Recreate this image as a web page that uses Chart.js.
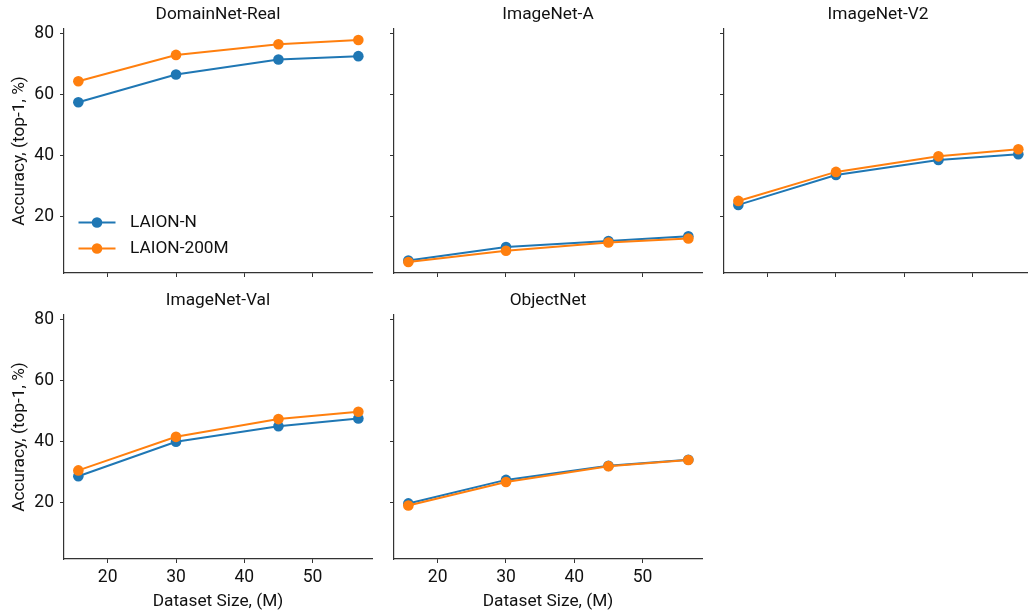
<!DOCTYPE html>
<html>
<head>
<meta charset="utf-8">
<script src="https://cdn.jsdelivr.net/npm/chart.js@4.4.1/dist/chart.umd.min.js"></script>
<style>
  html, body { margin: 0; padding: 0; background: #fff; overflow: hidden; }
  body { width: 1028px; height: 613px; position: relative; }
  canvas { position: absolute; }
</style>
</head>
<body>
<script>
// dataset size (millions of samples) on x
const datasetSize = [15.7, 30, 45, 56.7];
const xTicks = [20, 30, 40, 50];
const yTicks = [20, 40, 60, 80];
const seriesNames = ['LAION-N', 'LAION-200M'];
const panelTitles = ['DomainNet-Real', 'ImageNet-A', 'ImageNet-V2', 'ImageNet-Val', 'ObjectNet'];

// top-1 accuracy (%)
const domainNetReal_N = [57.5, 66.6, 71.5, 72.6];
const domainNetReal_200M = [64.4, 73.0, 76.5, 77.9];
const imageNetA_N = [5.7, 10.1, 12.1, 13.6];
const imageNetA_200M = [5.2, 8.9, 11.6, 12.9];
const imageNetV2_N = [23.9, 33.7, 38.6, 40.5];
const imageNetV2_200M = [25.2, 34.7, 39.8, 42.1];
const imageNetVal_N = [28.7, 40.0, 45.1, 47.6];
const imageNetVal_200M = [30.6, 41.6, 47.4, 49.8];
const objectNet_N = [19.8, 27.5, 32.1, 34.1];
const objectNet_200M = [19.1, 26.8, 32.0, 34.0];

const seriesN = [domainNetReal_N, imageNetA_N, imageNetV2_N, imageNetVal_N, objectNet_N];
const series200M = [domainNetReal_200M, imageNetA_200M, imageNetV2_200M, imageNetVal_200M, objectNet_200M];

const FONT = 'Roboto, "DejaVu Sans", sans-serif';
const FS = 17.3;
const BLUE = '#1f77b4';
const ORANGE = '#ff7f0e';
const SPINE = '#333333';
const TEXT = '#111111';

Chart.defaults.font.family = FONT;

// panel geometry (axes box)
const colX = [64, 394, 724];
const rowY = [29, 315];
const axW = 308, axH = 244, titleH = 29, rightPad = 7;

// legend drawn inside the first panel, lower left
const insideLegend = {
  id: 'insideLegend',
  afterDraw(chart, args, opts) {
    if (!opts.show) return;
    const {ctx, chartArea} = chart;
    ctx.save();
    ctx.font = FS + 'px ' + FONT;
    ctx.textBaseline = 'middle';
    ctx.textAlign = 'left';
    chart.data.datasets.forEach((ds, k) => {
      const y = chartArea.bottom - 50.5 + k * 26;
      const x0 = chartArea.left + 14.5;
      ctx.strokeStyle = ds.borderColor;
      ctx.lineWidth = 2;
      ctx.beginPath();
      ctx.moveTo(x0, y);
      ctx.lineTo(x0 + 37, y);
      ctx.stroke();
      ctx.fillStyle = ds.backgroundColor;
      ctx.beginPath();
      ctx.arc(x0 + 18.5, y, 5.3, 0, Math.PI * 2);
      ctx.fill();
      ctx.fillStyle = TEXT;
      ctx.fillText(ds.label, chartArea.left + 66, y);
    });
    ctx.restore();
  }
};

function makePanel(i) {
  const col = i % 3;
  const row = Math.floor(i / 3);
  const yw = col === 0 ? 64 : 12;
  const xh = row === 1 ? 54 : 8;

  const canvas = document.createElement('canvas');
  canvas.width = yw + axW + rightPad;
  canvas.height = titleH + axH + xh;
  canvas.style.left = (colX[col] - yw) + 'px';
  canvas.style.top = (rowY[row] - titleH) + 'px';
  document.body.appendChild(canvas);

  const pts = arr => datasetSize.map((x, k) => ({x: x, y: arr[k]}));

  new Chart(canvas, {
    type: 'line',
    data: {
      datasets: [{
        label: seriesNames[0],
        data: pts(seriesN[i]),
        borderColor: BLUE,
        backgroundColor: BLUE,
        order: 1
      }, {
        label: seriesNames[1],
        data: pts(series200M[i]),
        borderColor: ORANGE,
        backgroundColor: ORANGE,
        order: 0
      }]
    },
    options: {
      responsive: false,
      animation: false,
      events: [],
      layout: { padding: { left: 0, right: rightPad, top: 0, bottom: 0 }, autoPadding: false },
      elements: {
        line: { borderWidth: 2, tension: 0 },
        point: { radius: 5.3, borderWidth: 0, hoverRadius: 5.3 }
      },
      plugins: {
        legend: { display: false },
        tooltip: { enabled: false },
        insideLegend: { show: i === 0 },
        title: {
          display: true,
          text: panelTitles[i],
          fullSize: false,
          color: TEXT,
          font: { size: FS, weight: 'normal', lineHeight: 1.2 },
          padding: { top: 4.3, bottom: 3.9 }
        }
      },
      scales: {
        x: {
          type: 'linear',
          min: 13.6,
          max: 58.7,
          afterBuildTicks: s => { s.ticks = xTicks.map(v => ({ value: v })); },
          afterFit: s => { s.height = xh; s.paddingLeft = 0; s.paddingRight = 0; },
          grid: { drawOnChartArea: false, drawTicks: true, tickLength: 4, color: SPINE, lineWidth: 1 },
          border: { display: true, color: SPINE, width: 1.2 },
          ticks: { display: row === 1, color: TEXT, font: { size: 17.5 }, padding: 4.5, maxRotation: 0, autoSkip: false },
          title: {
            display: row === 1,
            text: 'Dataset Size, (M)',
            color: TEXT,
            font: { size: FS },
            padding: { top: 0, bottom: 0.5 }
          }
        },
        y: {
          type: 'linear',
          min: 1.6,
          max: 81.5,
          afterBuildTicks: s => { s.ticks = yTicks.map(v => ({ value: v })); },
          afterFit: s => { s.width = yw; s.paddingTop = 0; s.paddingBottom = 0; },
          grid: { drawOnChartArea: false, drawTicks: true, tickLength: 4, color: SPINE, lineWidth: 1 },
          border: { display: true, color: SPINE, width: 1.2 },
          ticks: { display: col === 0, color: TEXT, font: { size: 17.5 }, padding: 6 },
          title: {
            display: col === 0,
            text: 'Accuracy, (top-1, %)',
            color: TEXT,
            font: { size: FS },
            padding: { top: 9.6, bottom: 0 }
          }
        }
      }
    },
    plugins: [insideLegend]
  });
}

panelTitles.forEach((t, i) => makePanel(i));
</script>
</body>
</html>
